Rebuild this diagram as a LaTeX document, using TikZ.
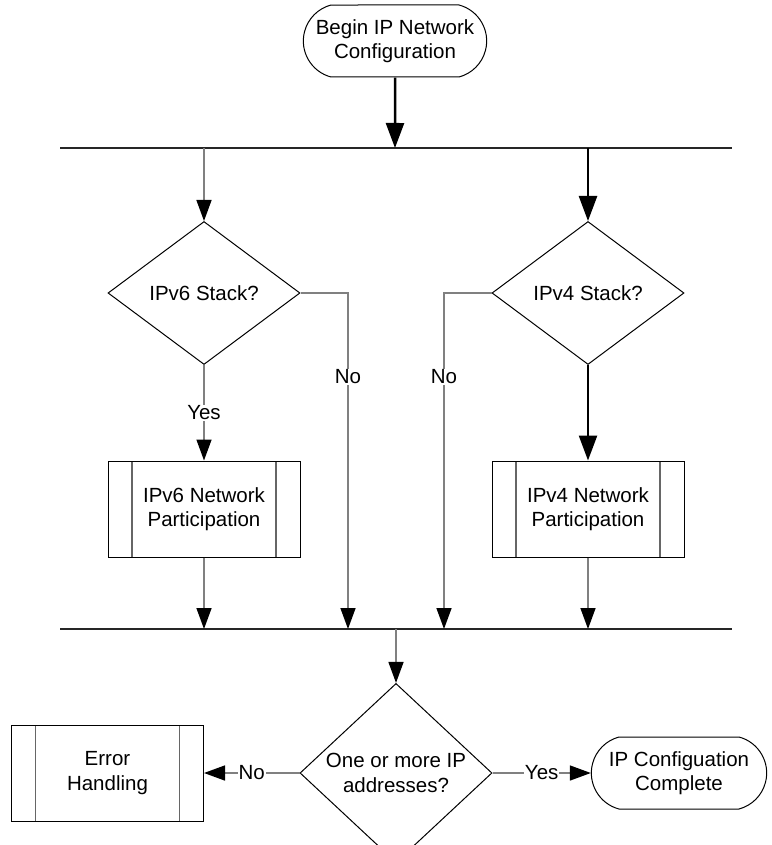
\documentclass[tikz,border=0pt]{standalone}
\usepackage{fontspec}
\setmainfont{Liberation Sans}
\usetikzlibrary{arrows.meta, shapes.geometric, shapes.misc}

\tikzset{
	terminal/.style = {draw, line width=1pt, rounded rectangle, rounded rectangle arc length=150,
		minimum width=190pt, minimum height=72pt, align=center},
	decision/.style = {draw, line width=1pt, diamond, minimum width=192pt, minimum height=143pt,
		inner sep=0pt, align=center},
	subproc/.style = {draw, line width=1pt, rectangle, minimum width=192pt, minimum height=96pt, align=center,
		path picture={
			\draw[line width=1.2pt, black!60] ([xshift=24pt]path picture bounding box.north west)
				-- ([xshift=24pt]path picture bounding box.south west);
			\draw[line width=1.2pt, black!60] ([xshift=-24pt]path picture bounding box.north east)
				-- ([xshift=-24pt]path picture bounding box.south east);
		}},
	flow/.style = {draw=black!50, line width=1.5pt, -{Triangle[length=21pt, width=15pt, color=black]}},
	mainflow/.style = {draw=black, line width=2.5pt, -{Triangle[length=25pt, width=18pt]}},
	bus/.style = {draw=black!85, line width=1.2pt},
	lbl/.style = {fill=white, inner sep=1pt}
}

\begin{document}
\begin{tikzpicture}
[x=1pt, y=-1pt, font=\fontsize{20.5}{24.5}\selectfont]
\useasboundingbox (0, 0) rectangle (771, 845);

\node [terminal] (begin) at (395, 41) {Begin IP Network\\Configuration};
\coordinate (bus1w) at (60, 148);
\coordinate (bus1e) at (732, 148);
\coordinate (bus2w) at (60, 629);
\coordinate (bus2e) at (732, 629);
\node [decision] (v6q) at (204, 293) {IPv6 Stack?};
\node [decision] (v4q) at (588, 293) {IPv4 Stack?};
\node [subproc] (v6p) at (204, 509) {IPv6 Network\\Participation};
\node [subproc] (v4p) at (588, 509) {IPv4 Network\\Participation};
\coordinate (no6) at (348, 293);
\coordinate (no4) at (444, 293);
\node [decision] (anyip) at (396, 773) {One or more IP\\addresses?};
\node [subproc] (err) at (107.5, 773) {Error\\Handling};
\node [terminal, minimum width=182pt] (done) at (679, 773) {IP Configuation\\Complete};

\draw [bus] (bus1w) to (bus1e);
\draw [bus] (bus2w) to (bus2e);

\draw [mainflow] (begin) to (begin |- bus1w);
\draw [flow] (v6q |- bus1w) to (v6q);
\draw [mainflow] (v4q |- bus1w) to (v4q);

\draw [flow] (v6q) to node [lbl] (yes6) {Yes} (v6p);
\draw [mainflow] (v4q) to (v4p);
\draw [flow] (v6q.east) -- (no6) -- node [lbl, pos=0.25] (no6lbl) {No} (no6 |- bus2w);
\draw [flow] (v4q.west) -- (no4) -- node [lbl, pos=0.25] (no4lbl) {No} (no4 |- bus2w);

\draw [flow] (v6p) to (v6p |- bus2w);
\draw [flow] (v4p) to (v4p |- bus2w);
\draw [flow] (anyip |- bus2w) to (anyip);

\draw [flow] (anyip.west) to node [lbl] (nolbl) {No} (err);
\draw [flow] (anyip.east) to node [lbl] (yeslbl) {Yes} (done);
\end{tikzpicture}
\end{document}
